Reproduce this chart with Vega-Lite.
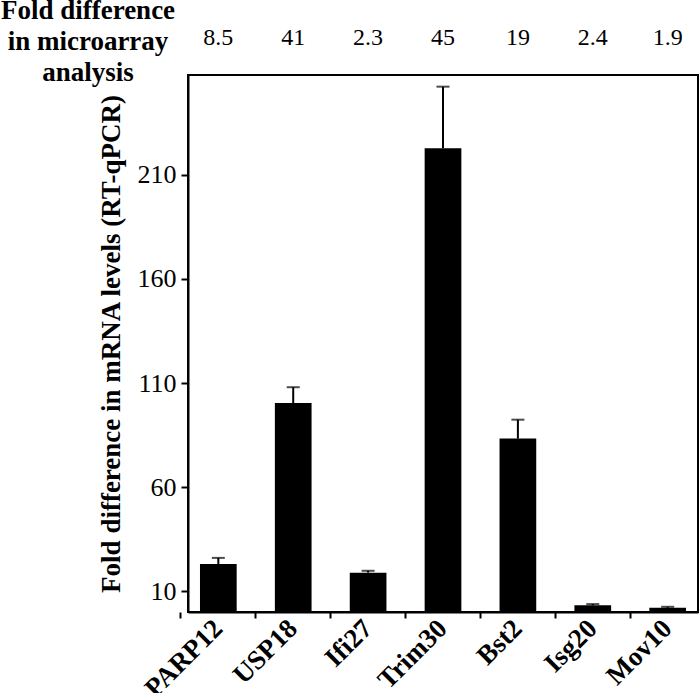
{
  "$schema": "https://vega.github.io/schema/vega-lite/v6.json",
  "width": 510,
  "height": 537,
  "padding": {"left": 0, "top": -4, "right": 3, "bottom": 0},
  "background": "white",
  "config": {
    "font": "Liberation Serif",
    "view": {"stroke": "black", "strokeWidth": 2},
    "text": {"font": "Liberation Serif"},
    "axis": {"grid": false, "domainColor": "black", "tickColor": "black", "labelColor": "black", "titleColor": "black", "domainWidth": 2, "tickWidth": 2, "labelFont": "Liberation Serif", "titleFont": "Liberation Serif"}
  },
  "title": {
    "text": ["Fold difference", "in microarray", "analysis"],
    "anchor": "start",
    "frame": "group",
    "align": "center",
    "dx": -100,
    "offset": -61,
    "fontSize": 27,
    "fontWeight": "bold",
    "lineHeight": 31,
    "font": "Liberation Serif",
    "color": "black"
  },
  "data": {
    "values": [
      {"gene": "PARP12", "value": 23.1, "upper": 26.0, "microarray": "8.5"},
      {"gene": "USP18", "value": 100.4, "upper": 108.0, "microarray": "41"},
      {"gene": "Ifi27", "value": 18.9, "upper": 19.8, "microarray": "2.3"},
      {"gene": "Trim30", "value": 222.8, "upper": 252.4, "microarray": "45"},
      {"gene": "Bst2", "value": 83.3, "upper": 92.4, "microarray": "19"},
      {"gene": "Isg20", "value": 3.2, "upper": 3.8, "microarray": "2.4"},
      {"gene": "Mov10", "value": 2.0, "upper": 2.5, "microarray": "1.9"}
    ]
  },
  "resolve": {"axis": {"x": "independent"}},
  "layer": [
    {
      "mark": {"type": "bar", "color": "black"},
      "encoding": {
        "x": {
          "field": "gene", "type": "nominal", "sort": null,
          "scale": {"paddingInner": 0.51, "paddingOuter": 0.16},
          "axis": {"orient": "bottom", "title": null, "labelAngle": -45, "labelAlign": "right", "labelBaseline": "middle", "labelFontSize": 27, "labelFontWeight": "bold", "ticks": false, "domain": false, "labelPadding": 12}
        },
        "y": {
          "field": "value", "type": "quantitative",
          "scale": {"domain": [0, 258], "nice": false, "zero": true},
          "axis": {"title": "Fold difference in mRNA levels (RT-qPCR)", "titleFontSize": 27, "titleFontWeight": "bold", "titlePadding": 12, "values": [10, 60, 110, 160, 210], "labelFontSize": 26, "tickSize": 7, "labelPadding": 5}
        }
      }
    },
    {
      "mark": {"type": "rule", "color": "black", "strokeWidth": 2},
      "encoding": {
        "x": {
          "field": "gene", "type": "nominal", "sort": null,
          "axis": {"orient": "bottom", "title": null, "labels": false, "ticks": true, "tickSize": 6, "bandPosition": -0.52, "domain": true}
        },
        "y": {"field": "value", "type": "quantitative"},
        "y2": {"field": "upper"}
      }
    },
    {
      "mark": {"type": "tick", "color": "black", "thickness": 2, "size": 13},
      "encoding": {
        "x": {"field": "gene", "type": "nominal", "sort": null, "axis": null},
        "y": {"field": "upper", "type": "quantitative"}
      }
    },
    {
      "mark": {"type": "text", "fontSize": 24, "baseline": "middle", "align": "center", "color": "black", "font": "Liberation Serif"},
      "encoding": {
        "x": {"field": "gene", "type": "nominal", "sort": null, "axis": null},
        "y": {"datum": 276, "type": "quantitative"},
        "text": {"field": "microarray"}
      }
    }
  ]
}
